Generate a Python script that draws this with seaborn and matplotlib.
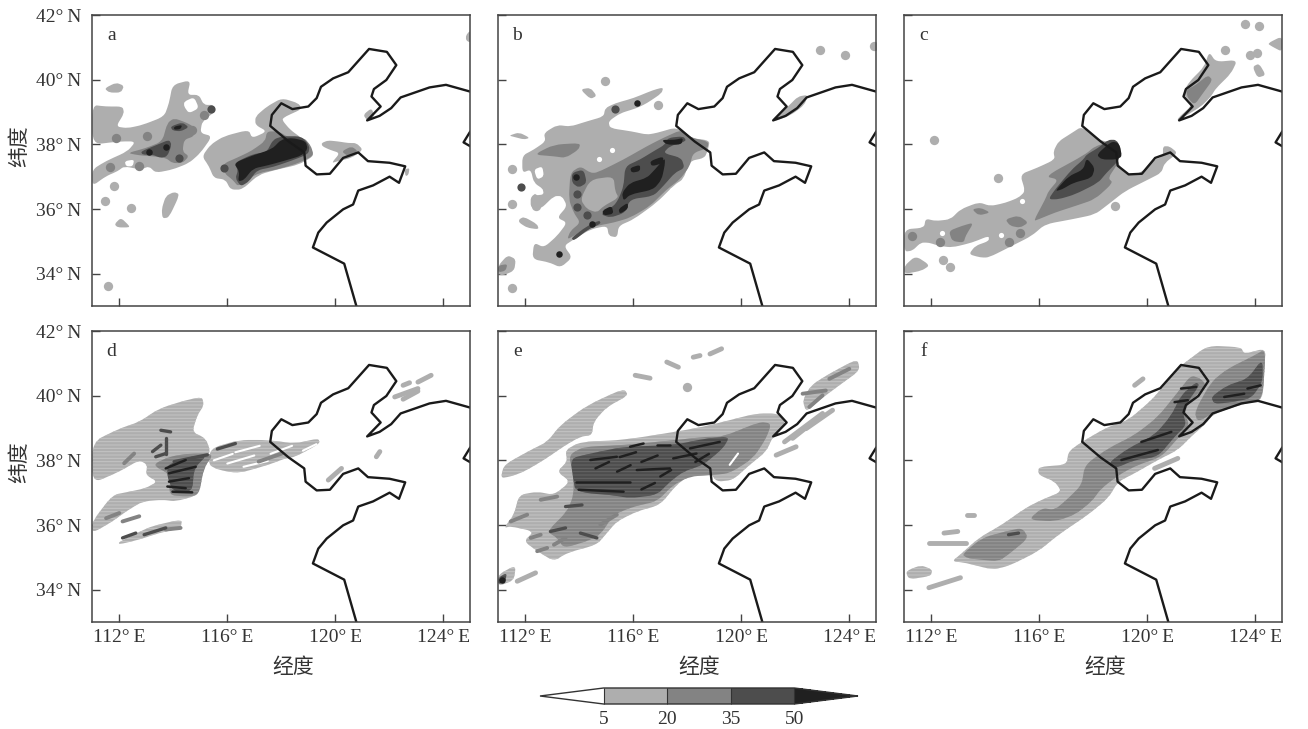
import matplotlib
matplotlib.use("Agg")
import matplotlib.pyplot as plt
import seaborn as sns
from matplotlib.cm import ScalarMappable
from matplotlib.colors import BoundaryNorm, ListedColormap
from matplotlib.patches import PathPatch
from matplotlib.path import Path

sns.set_theme(style="white")
plt.rcParams["font.family"] = ["Liberation Serif", "Noto Sans CJK SC", "DejaVu Sans"]
plt.rcParams["hatch.linewidth"] = 0.7

# coastline (lon, lat)
coast_main = [(120.78, 33.0), (120.33, 34.31), (119.17, 34.81), (119.37, 35.27), (119.68, 35.58), (120.29, 35.99),
              (120.66, 36.14), (120.85, 36.57), (121.40, 36.73), (122.01, 37.0), (122.36, 36.81), (122.59, 37.32),
              (122.01, 37.43), (121.21, 37.48), (120.85, 37.75), (120.29, 37.58), (119.80, 37.09), (119.31, 37.07),
              (118.90, 37.34), (118.85, 37.75), (118.27, 38.09), (117.59, 38.57), (117.65, 38.91), (118.0, 39.27),
              (118.41, 39.09), (119.0, 39.17), (119.31, 39.43), (119.47, 39.78), (119.92, 40.04), (120.48, 40.23),
              (121.25, 40.95), (121.91, 40.86), (122.26, 40.45), (121.89, 39.99), (121.43, 39.71), (121.34, 39.48),
              (121.68, 39.17), (121.18, 38.74), (121.64, 38.88), (122.07, 39.12), (122.42, 39.45), (123.49, 39.76),
              (124.10, 39.84), (125.0, 39.63)]
coast_east = [(125.0, 38.40), (124.75, 38.06), (125.0, 37.94)]

lon_ticks = [112, 116, 120, 124]
lat_ticks = [34, 36, 38, 40, 42]
cbar_levels = [5, 20, 35, 50]
greys = {0: "#ffffff", 1: "#aeaeae", 2: "#838383", 3: "#4d4d4d", 4: "#202020"}

# panel a
a_l1 = [[(111.0, 39.22), (111.5, 39.17), (112.12, 39.17), (112.18, 38.96), (111.88, 38.55), (112.3, 38.5), (112.86, 38.6),
         (113.66, 38.86), (113.84, 39.27), (113.97, 39.84), (114.64, 39.99), (114.52, 39.53), (114.95, 39.53), (115.13, 39.22),
         (115.5, 39.22), (115.56, 39.02), (115.07, 38.71), (115.0, 38.35), (115.44, 38.25), (115.0, 37.73), (114.58, 37.42),
         (113.97, 37.22), (113.35, 37.12), (113.1, 37.32), (112.8, 37.22), (112.18, 37.32), (111.94, 37.17), (111.5, 37.01),
         (111.0, 36.71), (111.0, 37.22), (111.5, 37.48), (112.3, 37.78), (112.61, 38.09), (112.0, 38.09), (111.0, 37.99)],
        [(115.07, 37.63), (115.38, 37.99), (115.87, 38.25), (116.79, 38.45), (116.92, 38.19), (117.47, 38.4), (117.04, 38.6),
         (117.04, 38.86), (117.47, 39.17), (118.02, 39.43), (118.64, 39.27), (118.76, 39.09), (118.15, 38.86), (118.02, 38.76),
         (118.33, 38.45), (118.76, 38.19), (119.13, 37.83), (119.19, 37.63), (118.64, 37.37), (117.84, 37.22), (117.16, 37.06),
         (116.55, 36.6), (116.12, 36.6), (115.93, 36.91), (115.5, 36.96), (115.32, 37.32)],
        [(119.49, 38.04), (119.73, 38.12), (120.1, 38.09), (120.48, 38.04), (120.78, 38.04), (121.03, 37.83), (120.6, 37.58),
         (120.1, 37.48), (119.86, 37.42), (120.17, 37.73), (119.8, 37.83), (119.52, 37.94)],
        [(121.03, 38.91), (121.34, 39.12), (121.46, 38.86), (121.21, 38.71)],
        [(122.57, 37.22), (122.75, 37.27), (122.71, 37.06), (122.6, 37.01)],
        [(124.84, 41.37), (125.0, 41.53), (125.0, 41.14), (124.84, 41.22)],
        [(111.45, 39.73), (111.88, 39.91), (112.18, 39.81), (112.06, 39.6), (111.63, 39.6)],
        [(111.82, 35.53), (112.06, 35.73), (112.37, 35.48), (112.35, 35.43), (111.94, 35.43)],
        [(113.72, 36.4), (114.03, 36.53), (114.24, 36.45), (113.84, 35.74), (113.6, 35.71), (113.57, 36.0)]]
a_holes = [[(114.4, 39.32), (114.77, 39.46), (114.95, 39.12), (114.58, 38.96), (114.4, 39.17)],
           [(112.2, 37.48), (112.55, 37.53), (112.5, 37.32), (112.25, 37.32)]]
a_l2 = [[(112.3, 37.73), (112.97, 37.88), (113.59, 38.09), (113.78, 38.66), (114.03, 38.81), (114.52, 38.66), (114.83, 38.5),
         (114.77, 38.25), (114.4, 38.14), (114.34, 37.78), (114.58, 37.63), (114.34, 37.42), (113.97, 37.42), (113.72, 37.58),
         (113.23, 37.63), (112.74, 37.66)],
        [(115.85, 37.4), (116.4, 37.6), (116.9, 37.8), (117.4, 38.1), (117.47, 38.4), (117.9, 38.4), (118.3, 38.2),
         (118.85, 38.2), (119.1, 37.95), (119.2, 37.65), (118.64, 37.42), (117.84, 37.22), (117.2, 37.12), (116.7, 36.9),
         (116.4, 36.7), (116.2, 36.9), (115.9, 37.1)],
        [(120.23, 37.78), (120.6, 37.94), (120.85, 37.78), (120.48, 37.63)]]
a_l3 = [[(112.8, 37.78), (113.41, 37.99), (113.84, 38.14), (113.94, 37.99), (113.78, 37.63), (113.53, 37.58), (113.23, 37.68), (112.86, 37.68)],
        [(113.9, 38.55), (114.33, 38.68), (114.58, 38.53), (114.27, 38.4), (113.97, 38.43)],
        [(116.25, 37.42), (116.95, 37.7), (117.45, 37.75), (117.7, 38.15), (118.05, 38.25), (118.75, 38.25), (119.05, 37.95),
         (119.0, 37.7), (118.4, 37.5), (117.7, 37.3), (117.1, 37.2), (116.8, 36.85), (116.5, 36.7), (116.3, 36.95), (116.4, 37.2)]]
a_l4 = [[(114.03, 38.55), (114.33, 38.6), (114.27, 38.47), (114.03, 38.45)],
        [(116.25, 37.42), (116.92, 37.65), (117.65, 37.85), (118.0, 38.15), (118.4, 38.2), (118.9, 38.1), (118.98, 37.85),
         (118.75, 37.65), (118.15, 37.5), (117.5, 37.35), (116.95, 37.25), (116.62, 36.9), (116.4, 36.85), (116.45, 37.15)]]
a_streaks = []
a_spots = [(111.66, 37.3, 2), (111.82, 36.71, 1), (111.48, 36.24, 1), (112.45, 36.04, 1), (111.57, 33.63, 1), (111.88, 38.19, 2),
           (113.04, 38.25, 2), (112.74, 37.34, 2), (114.21, 37.58, 3), (114.68, 38.45, 2), (115.38, 39.09, 3), (115.13, 38.91, 2),
           (113.72, 37.92, 4), (113.1, 37.75, 4), (115.87, 37.27, 3)]

# panel b
b_l1 = [[(111.89, 37.65), (112.32, 37.84), (112.75, 38.09), (112.69, 38.35), (113.18, 38.6), (113.67, 38.55), (114.28, 38.71),
         (114.9, 38.86), (114.96, 39.12), (115.33, 39.27), (116.01, 39.43), (116.74, 39.68), (117.11, 39.76), (117.05, 39.58),
         (116.5, 39.27), (116.13, 39.12), (115.51, 38.96), (115.08, 38.71), (115.14, 38.5), (115.94, 38.4), (116.5, 38.3),
         (116.86, 38.35), (117.6, 38.53), (118.09, 38.2), (118.83, 38.12), (118.77, 37.84), (118.64, 37.58), (118.09, 37.48),
         (117.85, 36.92), (117.54, 36.76), (116.87, 36.2), (116.01, 35.68), (115.46, 35.48), (115.4, 35.12), (115.09, 35.17),
         (115.03, 35.48), (114.41, 35.37), (113.8, 35.06), (113.43, 34.86), (113.74, 34.5), (113.31, 34.19), (112.88, 34.35),
         (112.26, 34.45), (112.32, 34.96), (112.69, 34.81), (113.18, 35.17), (113.55, 35.58), (113.18, 35.73), (113.55, 36.09),
         (113.36, 36.4), (113.06, 36.4), (112.57, 36.0), (112.2, 36.04), (112.2, 36.4), (112.69, 36.6), (112.32, 36.81),
         (112.2, 37.22), (111.89, 37.12)],
        [(114.04, 39.7), (114.41, 39.75), (114.65, 39.5), (114.41, 39.4)],
        [(111.4, 38.27), (111.77, 38.37), (112.17, 38.2), (111.95, 38.15), (111.58, 38.23)],
        [(111.77, 35.68), (111.95, 35.76), (112.44, 35.53), (112.5, 35.37), (112.07, 35.42), (111.77, 35.58)],
        [(111.0, 34.25), (111.34, 34.57), (111.65, 34.45), (111.59, 34.09), (111.16, 33.94), (111.0, 33.99)],
        [(121.24, 38.81), (121.73, 39.17), (122.1, 39.48), (122.47, 39.53), (122.34, 39.22), (121.85, 38.91), (121.24, 38.71)]]
b_holes = [[(112.32, 37.22), (112.63, 37.32), (112.69, 37.01), (112.44, 36.91)],
           [(112.32, 36.6), (112.63, 36.66), (112.69, 36.45), (112.38, 36.42)]]
b_l2 = [[(112.32, 37.68), (113.05, 37.99), (114.04, 38.04), (113.98, 37.84), (113.49, 37.58), (113.06, 37.63)],
        [(114.65, 37.12), (115.64, 37.53), (116.5, 37.94), (117.11, 38.2), (117.78, 38.45), (118.16, 38.2), (118.77, 38.09),
         (118.77, 37.89), (118.21, 37.73), (118.09, 37.32), (117.72, 36.91), (117.23, 36.6), (116.62, 36.09), (115.88, 35.73),
         (115.27, 35.58), (114.65, 35.48), (114.16, 35.37), (113.8, 35.17), (113.55, 35.06), (113.67, 35.32), (114.04, 35.58),
         (113.79, 35.89), (113.61, 36.3), (113.67, 37.12), (114.04, 37.32), (114.41, 37.12)],
        [(111.0, 34.25), (111.34, 34.3), (111.27, 34.09), (111.0, 34.04)]]
b_inner = [[(114.04, 36.3), (114.41, 36.91), (115.27, 37.01), (115.33, 36.55), (115.46, 36.35), (114.9, 36.09), (114.65, 35.89), (114.28, 36.0)]]
b_l3 = [[(115.45, 36.3), (115.64, 36.71), (115.7, 37.32), (116.25, 37.53), (116.74, 37.78), (117.17, 37.99), (117.29, 38.2),
         (117.85, 38.25), (117.97, 38.1), (117.35, 37.94), (117.11, 37.73), (117.78, 37.58), (117.9, 37.27), (117.54, 37.12),
         (117.11, 36.71), (116.74, 36.4), (115.88, 36.3), (115.7, 35.89), (115.15, 35.73), (114.78, 35.84), (115.27, 36.09)],
        [(113.73, 37.12), (114.16, 37.22), (114.28, 36.81), (113.98, 36.66), (113.73, 36.81)],
        [(113.7, 35.1), (114.25, 35.45), (114.74, 35.65), (114.8, 35.55), (114.3, 35.35), (113.8, 35.02)]]
b_l4 = [[(115.58, 36.5), (115.88, 36.81), (116.5, 36.96), (116.8, 37.22), (117.17, 37.58), (117.17, 37.37), (117.05, 36.91),
         (116.74, 36.6), (115.88, 36.45), (115.64, 36.25)],
        [(115.88, 37.27), (116.25, 37.37), (116.25, 37.17), (115.94, 37.12)],
        [(116.62, 37.48), (117.11, 37.63), (117.11, 37.42), (116.68, 37.32)],
        [(117.05, 38.14), (117.54, 38.14), (117.85, 38.2), (117.78, 37.99), (117.23, 37.99)],
        [(114.85, 35.95), (115.2, 36.1), (115.27, 35.85), (114.9, 35.8)],
        [(115.45, 36.0), (115.8, 36.2), (115.8, 36.0), (115.5, 35.85)]]
b_streaks = []
b_spots = [(111.52, 37.24, 1), (111.83, 36.68, 3), (111.52, 36.16, 1), (112.38, 36.1, 1), (111.52, 33.57, 1), (122.91, 40.91, 1),
           (123.85, 40.76, 1), (124.92, 41.05, 1), (116.9, 39.21, 1), (114.96, 39.96, 1), (113.86, 36.98, 4), (113.92, 36.47, 3),
           (113.92, 36.06, 3), (114.29, 35.8, 3), (114.47, 35.55, 4), (113.24, 34.62, 4), (115.33, 39.1, 3), (116.13, 39.27, 4),
           (115.21, 37.82, 0), (114.72, 37.56, 0), (117.42, 36.58, 0)]

# panel c
c_l1 = [[(111.0, 35.37), (111.73, 35.42), (111.79, 35.7), (112.16, 35.63), (112.71, 35.68), (113.08, 35.99), (113.76, 36.21),
         (114.19, 36.09), (114.74, 36.19), (115.23, 36.35), (115.48, 36.55), (115.29, 37.07), (115.91, 37.27), (116.58, 37.53),
         (116.52, 37.78), (116.71, 38.09), (117.2, 38.35), (117.57, 38.55), (118.18, 38.14), (118.8, 38.04), (118.92, 37.37),
         (119.29, 37.07), (119.78, 37.12), (120.15, 37.48), (120.58, 37.63), (120.58, 37.94), (120.82, 37.94), (121.13, 37.73),
         (120.64, 37.42), (120.52, 37.12), (120.03, 36.91), (119.17, 36.55), (118.55, 36.14), (118.06, 35.83), (117.2, 35.68),
         (116.22, 35.53), (115.72, 35.17), (114.99, 34.86), (114.13, 34.5), (113.82, 34.5), (113.39, 34.6), (113.63, 34.86),
         (114.13, 35.01), (114.13, 35.17), (113.51, 34.96), (112.77, 34.81), (112.28, 34.86), (111.91, 34.96), (111.61, 34.96),
         (111.3, 34.71), (111.0, 34.68)],
        [(111.0, 34.24), (111.42, 34.55), (111.95, 34.26), (111.64, 34.09), (111.0, 33.99)],
        [(121.13, 38.81), (121.68, 39.22), (121.31, 39.58), (121.56, 39.94), (122.11, 40.4), (122.29, 40.86), (122.54, 40.55),
         (123.34, 40.61), (123.1, 40.19), (122.54, 39.73), (122.36, 39.48), (121.99, 39.17), (121.38, 38.86), (121.13, 38.71)],
        [(124.45, 41.12), (125.0, 41.35), (125.0, 40.86), (124.63, 41.02)],
        [(123.9, 40.4), (124.14, 40.5), (124.39, 40.14), (124.08, 40.06)]]
c_holes = []
c_l2 = [[(115.79, 35.63), (116.22, 36.3), (116.34, 36.55), (116.71, 36.91), (116.22, 37.01), (117.69, 37.68), (118.06, 37.94),
         (118.67, 38.09), (118.98, 37.89), (118.92, 37.42), (118.55, 36.96), (118.73, 36.81), (118.06, 36.3), (117.32, 36.09),
         (116.58, 35.89), (115.97, 35.68)],
        [(113.51, 35.99), (113.82, 36.04), (114.19, 35.89), (113.76, 35.8)],
        [(114.74, 35.68), (115.23, 35.8), (115.6, 35.58), (115.29, 35.42), (114.92, 35.48)],
        [(112.65, 35.32), (113.14, 35.48), (113.57, 35.58), (113.27, 35.17), (113.2, 34.96), (112.77, 35.01)],
        [(121.44, 39.68), (121.8, 39.84), (122.24, 40.14), (122.42, 39.99), (122.06, 39.58), (121.75, 39.22), (121.5, 39.43)]]
c_l3 = [[(116.34, 36.3), (116.58, 36.6), (117.2, 37.22), (117.63, 37.53), (117.75, 37.68), (118.18, 37.89), (118.55, 38.14),
         (118.86, 38.14), (119.04, 37.84), (118.92, 37.48), (118.49, 37.12), (118.18, 36.81), (117.32, 36.45), (116.71, 36.3)]]
c_l4 = [[(116.58, 36.55), (117.08, 37.01), (117.63, 37.22), (117.75, 37.58), (118.06, 37.27), (117.94, 36.96), (117.26, 36.81), (116.83, 36.6)],
        [(118.12, 37.68), (118.67, 38.09), (118.95, 38.04), (119.07, 37.63), (118.86, 37.53), (118.31, 37.53)]]
c_streaks = []
c_spots = [(123.61, 41.73, 1), (124.14, 41.67, 1), (122.88, 40.91, 1), (123.81, 40.76, 1), (124.08, 40.81, 1), (112.1, 38.14, 1),
           (114.47, 36.96, 1), (112.44, 34.43, 1), (112.68, 34.22, 1), (118.8, 36.09, 1), (115.36, 36.24, 0), (114.59, 35.19, 0),
           (112.41, 35.25, 0), (111.3, 35.17, 2), (112.34, 34.98, 2), (114.86, 34.98, 2), (115.27, 35.25, 2)]

# panel d
d_l1 = [[(111.0, 38.57), (112.0, 38.98), (112.74, 39.19), (113.47, 39.6), (114.46, 39.86), (115.07, 39.96), (115.13, 39.7),
         (114.89, 39.39), (114.7, 38.88), (115.2, 38.68), (115.38, 38.27), (115.07, 37.86), (114.95, 36.93), (114.09, 36.73),
         (113.6, 36.78), (112.86, 36.73), (112.25, 36.42), (111.75, 36.11), (111.0, 35.75), (111.0, 36.11), (111.75, 36.93),
         (112.37, 37.03), (112.98, 37.14), (113.41, 37.34), (112.98, 37.55), (113.04, 37.86), (112.74, 38.01), (112.0, 37.65),
         (111.0, 37.29)],
        [(111.98, 35.47), (112.72, 35.78), (113.23, 35.97), (114.33, 36.18), (114.27, 35.9), (113.47, 35.75), (112.74, 35.55), (112.0, 35.4)],
        [(115.38, 38.37), (116.43, 38.63), (117.47, 38.63), (118.52, 38.52), (119.37, 38.68), (119.43, 38.52), (118.52, 38.11),
         (118.15, 38.06), (117.52, 37.86), (116.43, 37.6), (115.69, 37.7), (115.31, 37.86)]]
d_holes = []
d_l2 = [[(113.23, 37.86), (113.84, 38.11), (114.58, 38.21), (115.5, 38.21), (115.13, 37.75), (114.95, 36.93), (114.46, 36.88),
         (113.84, 36.93), (113.9, 37.55)]]
d_l3 = [[(113.78, 37.86), (114.58, 38.11), (115.26, 38.17), (114.77, 37.75), (114.7, 37.03), (114.03, 37.03), (113.84, 37.34), (113.78, 37.55)]]
d_l4 = []
d_streaks = [(119.74, 37.39, 120.23, 37.75, 1), (121.52, 38.11, 121.65, 38.27, 1), (122.2, 39.96, 123.06, 40.22, 1), (122.51, 39.89, 123.06, 40.14, 1),
             (122.51, 40.32, 122.75, 40.4, 1), (123.06, 40.42, 123.55, 40.63, 1), (115.63, 38.35, 116.3, 38.52, 3), (117.16, 37.96, 118.02, 38.21, 2),
             (112.12, 35.6, 112.61, 35.75, 3), (112.92, 35.7, 113.72, 35.91, 3), (113.72, 35.86, 114.27, 35.91, 2), (111.51, 36.21, 112.0, 36.37, 2),
             (112.12, 36.11, 112.74, 36.27, 2), (113.72, 37.75, 114.46, 38.01, 4), (113.84, 37.6, 114.83, 37.8, 4), (113.84, 37.34, 114.58, 37.45, 4),
             (113.78, 37.19, 114.46, 37.14, 4), (113.97, 37.03, 114.7, 37.01, 4), (114.03, 37.96, 115.26, 38.17, 3), (113.35, 38.11, 113.72, 38.21, 3),
             (113.54, 38.93, 113.9, 38.88, 3), (113.23, 38.27, 113.54, 38.47, 3), (112.18, 37.91, 112.55, 38.21, 2), (113.72, 38.68, 113.72, 38.21, 3),
             (116.3, 38.25, 117.2, 38.45, 0), (116.0, 37.9, 117.0, 38.15, 0), (117.6, 38.2, 118.4, 38.45, 0), (118.8, 38.3, 119.3, 38.5, 0),
             (116.6, 37.8, 117.5, 37.98, 0), (115.5, 38.0, 116.2, 38.2, 0)]
d_spots = []

# panel e
e_l1 = [[(111.09, 37.45), (111.21, 37.86), (112.2, 38.32), (112.81, 38.57), (113.3, 39.09), (114.29, 39.7), (115.64, 40.22), (115.82, 40.01),
         (115.02, 39.65), (114.53, 39.19), (114.47, 38.78), (114.04, 38.73), (113.49, 38.47), (112.69, 38.01), (111.95, 37.65), (111.46, 37.5)],
        [(113.49, 38.32), (114.04, 38.57), (115.64, 38.63), (117.54, 38.88), (118.59, 39.04), (119.32, 39.19), (120.55, 39.45), (121.35, 39.45),
         (121.66, 39.14), (121.17, 38.73), (120.92, 38.27), (120.31, 37.86), (119.69, 37.39), (119.08, 37.34), (118.83, 37.65), (118.1, 37.55),
         (117.6, 37.24), (116.99, 36.62), (116.13, 36.42), (115.39, 36.11), (115.02, 35.75), (114.65, 35.39), (113.55, 35.14), (113.06, 34.88),
         (112.44, 35.19), (111.95, 35.5), (112.32, 35.8), (111.46, 35.96), (111.21, 35.91), (111.58, 36.32), (111.77, 36.93), (112.44, 37.03),
         (113.06, 36.93), (113.67, 37.34), (113.18, 37.65), (113.55, 37.96)],
        [(122.27, 39.86), (122.58, 40.32), (123.26, 40.68), (124.3, 41.14), (124.39, 40.78), (123.63, 40.32), (122.89, 39.86), (122.4, 39.5)],
        [(111.0, 34.47), (111.65, 34.76), (111.58, 34.29), (111.0, 34.11)]]
e_holes = []
e_l2 = [[(113.61, 38.16), (114.16, 38.42), (115.64, 38.47), (117.6, 38.63), (118.71, 38.73), (119.32, 38.73), (120.68, 39.19), (121.11, 39.14),
         (120.92, 38.68), (120.43, 38.06), (119.57, 37.6), (118.96, 37.55), (118.1, 37.5), (117.48, 37.24), (116.87, 36.73), (116.01, 36.57),
         (115.27, 36.32), (114.78, 35.7), (114.29, 35.5), (113.43, 35.29), (113.18, 35.6), (112.81, 35.8), (113.55, 36.42), (113.79, 36.93), (113.79, 37.55)]]
e_l3 = [[(113.79, 37.34), (113.67, 38.06), (114.41, 38.21), (115.64, 38.42), (117.48, 38.47), (118.71, 38.68), (119.57, 38.73), (119.32, 38.37),
         (118.59, 37.86), (117.85, 37.65), (117.36, 37.34), (116.87, 36.93), (115.88, 36.83), (115.15, 36.93), (114.29, 36.98), (113.86, 37.09)],
        [(111.0, 34.37), (111.31, 34.52), (111.27, 34.26), (111.0, 34.16)]]
e_l4 = []
e_streaks = [(121.29, 38.16, 122.03, 38.42, 1), (121.6, 38.57, 123.01, 39.45, 1), (121.9, 38.68, 122.52, 39.09, 1), (122.4, 38.98, 123.38, 39.55, 1),
             (122.27, 40.06, 123.13, 40.16, 2), (123.26, 40.52, 124.0, 40.83, 2), (122.52, 39.65, 123.01, 40.01, 2), (116.07, 40.63, 116.62, 40.54, 1),
             (117.24, 41.04, 117.67, 40.88, 1), (118.22, 41.19, 118.47, 41.24, 1), (118.84, 41.29, 119.27, 41.45, 1), (111.7, 34.26, 112.38, 34.52, 1),
             (113.86, 37.32, 115.88, 37.32, 4), (113.98, 37.09, 115.64, 37.03, 4), (116.13, 37.7, 117.36, 37.75, 4), (118.1, 38.37, 119.2, 38.57, 4),
             (115.88, 38.42, 116.38, 38.52, 4), (116.87, 38.47, 117.36, 38.47, 4), (114.41, 38.01, 115.39, 38.11, 4), (117.48, 38.06, 118.34, 38.21, 4),
             (114.6, 37.75, 115.1, 37.95, 4), (115.4, 37.65, 115.9, 37.85, 4), (116.3, 37.95, 116.9, 38.15, 4), (115.5, 38.1, 116.1, 38.25, 4),
             (117.0, 37.5, 117.4, 37.7, 4), (116.3, 37.1, 116.8, 37.3, 4), (118.3, 37.95, 118.8, 38.2, 4),
             (113.49, 36.57, 114.1, 36.62, 3), (112.93, 35.8, 113.49, 35.91, 3), (114.04, 35.75, 114.65, 35.6, 3), (112.2, 35.6, 112.57, 35.7, 2),
             (111.46, 36.11, 112.07, 36.32, 2), (112.57, 36.78, 113.18, 36.88, 2), (112.44, 35.19, 112.81, 35.29, 2), (113.06, 35.39, 113.49, 35.6, 2),
             (114.78, 36.01, 115.39, 36.32, 2), (119.57, 37.86, 119.88, 38.21, 0)]
e_spots = [(118.0, 40.27, 1), (111.15, 34.3, 4)]

# panel f
f_l1 = [[(115.97, 37.55), (115.97, 37.8), (117.01, 37.86), (117.08, 38.27), (117.57, 38.57), (118.55, 39.04), (119.29, 39.24), (120.15, 39.86),
         (120.52, 40.22), (121.25, 40.93), (121.5, 41.09), (122.24, 41.55), (123.47, 41.5), (123.59, 41.29), (124.39, 41.47), (124.33, 40.83),
         (124.27, 39.86), (123.59, 39.75), (122.48, 39.45), (122.11, 39.09), (121.68, 38.78), (121.13, 38.32), (120.39, 38.01), (119.53, 37.6),
         (118.92, 37.34), (118.55, 36.83), (117.81, 36.32), (116.71, 35.7), (115.97, 35.19), (114.86, 34.73), (114.25, 34.62), (113.27, 34.83),
         (112.77, 34.88), (113.08, 35.09), (113.76, 35.6), (114.62, 36.01), (115.48, 36.52), (116.09, 36.78), (116.83, 37.03), (116.58, 37.34)],
        [(111.05, 34.57), (111.61, 34.76), (112.04, 34.62), (111.98, 34.42), (111.17, 34.32)]]
f_holes = []
f_l2 = [[(117.69, 37.86), (118.55, 38.37), (119.53, 38.78), (120.39, 39.34), (121.13, 40.11), (121.62, 40.63), (121.99, 40.52), (122.18, 40.32),
         (121.5, 39.75), (121.38, 39.45), (121.56, 39.09), (121.13, 38.68), (120.52, 38.11), (119.66, 37.86), (119.04, 37.6), (118.3, 37.14),
         (117.94, 36.73), (117.32, 36.32), (116.58, 36.11), (115.6, 36.16), (116.09, 36.52), (116.58, 36.47), (117.08, 36.83), (117.57, 37.24)],
        [(121.75, 39.5), (122.36, 40.42), (122.97, 40.83), (123.96, 41.24), (124.39, 41.45), (124.27, 39.86), (123.59, 39.78), (122.48, 39.48), (121.87, 39.19)],
        [(113.14, 35.09), (113.88, 35.6), (114.74, 35.8), (115.36, 35.91), (115.6, 35.6), (114.86, 35.09), (114.49, 34.88), (113.76, 34.93), (113.33, 34.98)]]
f_l3 = [[(118.55, 37.91), (119.29, 38.37), (120.27, 38.78), (120.89, 39.39), (121.25, 40.01), (121.81, 40.42), (121.93, 40.32), (121.5, 39.81),
         (121.32, 39.45), (121.44, 39.09), (121.01, 38.73), (120.39, 38.11), (119.53, 38.01), (118.8, 37.75)],
        [(122.36, 39.96), (122.97, 40.32), (123.71, 40.52), (124.27, 41.14), (124.27, 40.42), (123.84, 39.91), (122.97, 39.78), (122.48, 39.75)]]
f_l4 = []
f_streaks = [(119.04, 38.01, 120.39, 38.32, 4), (119.78, 38.57, 120.89, 38.88, 4), (121.01, 39.8, 121.5, 39.86, 4), (121.25, 40.22, 121.81, 40.27, 4),
             (122.85, 39.96, 123.59, 40.06, 4), (123.71, 40.22, 124.2, 40.32, 4), (114.86, 35.7, 115.23, 35.75, 3), (111.91, 35.44, 113.27, 35.44, 1),
             (112.47, 35.75, 112.98, 35.8, 1), (111.91, 34.06, 113.08, 34.37, 1), (113.33, 36.3, 113.57, 36.3, 1), (120.27, 37.75, 121.13, 38.06, 1),
             (119.53, 40.32, 119.84, 40.52, 1)]
f_spots = []

panels = [("a", a_l1, a_holes, [], a_l2, a_l3, a_l4, a_streaks, a_spots),
          ("b", b_l1, b_holes, b_inner, b_l2, b_l3, b_l4, b_streaks, b_spots),
          ("c", c_l1, c_holes, [], c_l2, c_l3, c_l4, c_streaks, c_spots),
          ("d", d_l1, d_holes, [], d_l2, d_l3, d_l4, d_streaks, d_spots),
          ("e", e_l1, e_holes, [], e_l2, e_l3, e_l4, e_streaks, e_spots),
          ("f", f_l1, f_holes, [], f_l2, f_l3, f_l4, f_streaks, f_spots)]

streak_width = {0: 1.5, 1: 3.5, 2: 2.8, 3: 2.4, 4: 1.8}
spot_size = {0: 14, 1: 45, 2: 45, 3: 35, 4: 22}


def add_blob(ax, pts, level, striped):
    # polygon with its corners rounded off, looks like a contour edge
    verts, codes = [], []
    n = len(pts)
    for i, p in enumerate(pts):
        a, b = pts[i - 1], pts[(i + 1) % n]
        verts.append((p[0] + (a[0] - p[0]) * 0.35, p[1] + (a[1] - p[1]) * 0.35))
        codes.append(Path.MOVETO if i == 0 else Path.LINETO)
        verts += [p, (p[0] + (b[0] - p[0]) * 0.35, p[1] + (b[1] - p[1]) * 0.35)]
        codes += [Path.CURVE3, Path.CURVE3]
    verts.append(verts[0])
    codes.append(Path.CLOSEPOLY)
    patch = PathPatch(Path(verts, codes), facecolor=greys[level], linewidth=0)
    if striped and level in (1, 2, 3):
        patch.set_edgecolor("#c4c4c4" if level == 1 else "#9a9a9a" if level == 2 else "#666666")
        patch.set_hatch("-----")
    ax.add_patch(patch)


W, H = 1308, 729
fig = plt.figure(figsize=(W / 100, H / 100), dpi=100)
ink = "#333333"
lefts = [92.3, 498.3, 904.3]
tops = [15, 331]

for n, (name, l1, holes, inner, l2, l3, l4, streaks, spots) in enumerate(panels):
    row, col = n // 3, n % 3
    ax = fig.add_axes([lefts[col] / W, 1 - (tops[row] + 291) / H, 378 / W, 291 / H])
    striped = row == 1
    for level, polys, marks in [(1, l1, True), (0, holes, True), (2, l2, True), (1, inner, False), (3, l3, True), (4, l4, True)]:
        for pts in polys:
            add_blob(ax, pts, level, striped)
        if not marks:
            continue
        for s in streaks:
            if s[4] == level:
                ax.plot([s[0], s[2]], [s[1], s[3]], color=greys[level], lw=streak_width[level], solid_capstyle="round")
        pts = [s for s in spots if s[2] == level]
        if pts:
            sns.scatterplot(x=[p[0] for p in pts], y=[p[1] for p in pts], color=greys[level], s=spot_size[level], linewidth=0, ax=ax)
    for seg in (coast_main, coast_east):
        sns.lineplot(x=[p[0] for p in seg], y=[p[1] for p in seg], sort=False, estimator=None,
                     color="#1a1a1a", linewidth=1.7, ax=ax)
    ax.set_xlim(111, 125)
    ax.set_ylim(33, 42)
    ax.set_xticks(lon_ticks)
    ax.set_yticks(lat_ticks)
    ax.tick_params(direction="in", length=6, width=1, color="#444444", labelsize=14, labelcolor=ink,
                   bottom=True, left=True, labelbottom=row == 1, labelleft=col == 0)
    ax.tick_params(axis="x", pad=5)
    ax.tick_params(axis="y", pad=8)
    ax.set_xticklabels([f"{v}°\u2009E" for v in lon_ticks])
    ax.set_yticklabels([f"{v}°\u2009N" for v in lat_ticks])
    for sp in ax.spines.values():
        sp.set_color("#444444")
        sp.set_linewidth(1.1)
    ax.text(0.05, 0.93, name, transform=ax.transAxes, fontsize=14, color=ink, ha="center", va="center")
    ax.set_xlabel("")
    ax.set_ylabel("")
    if row == 1:
        ax.set_xlabel("经度", fontsize=15, color=ink, va="center")
        ax.xaxis.set_label_coords(0.531, -0.158)
    if col == 0:
        ax.set_ylabel("纬度", fontsize=15, color=ink, va="center")
        ax.yaxis.set_label_coords(-0.19, 0.55)

cmap = ListedColormap([greys[1], greys[2], greys[3]])
cmap.set_under(greys[0])
cmap.set_over(greys[4])
cax = fig.add_axes([540 / W, 1 - 704 / H, 318 / W, 16 / H])
cb = fig.colorbar(ScalarMappable(norm=BoundaryNorm(cbar_levels, 3), cmap=cmap), cax=cax, orientation="horizontal",
                  extend="both", extendfrac=1 / 3, ticks=cbar_levels, drawedges=True)
cb.outline.set_edgecolor("#333333")
cb.outline.set_linewidth(1)
cb.dividers.set_color("#333333")
cb.dividers.set_linewidth(0.8)
cb.ax.tick_params(length=0, labelsize=14, labelcolor=ink, pad=5)

fig.savefig("out.png", dpi=100)
